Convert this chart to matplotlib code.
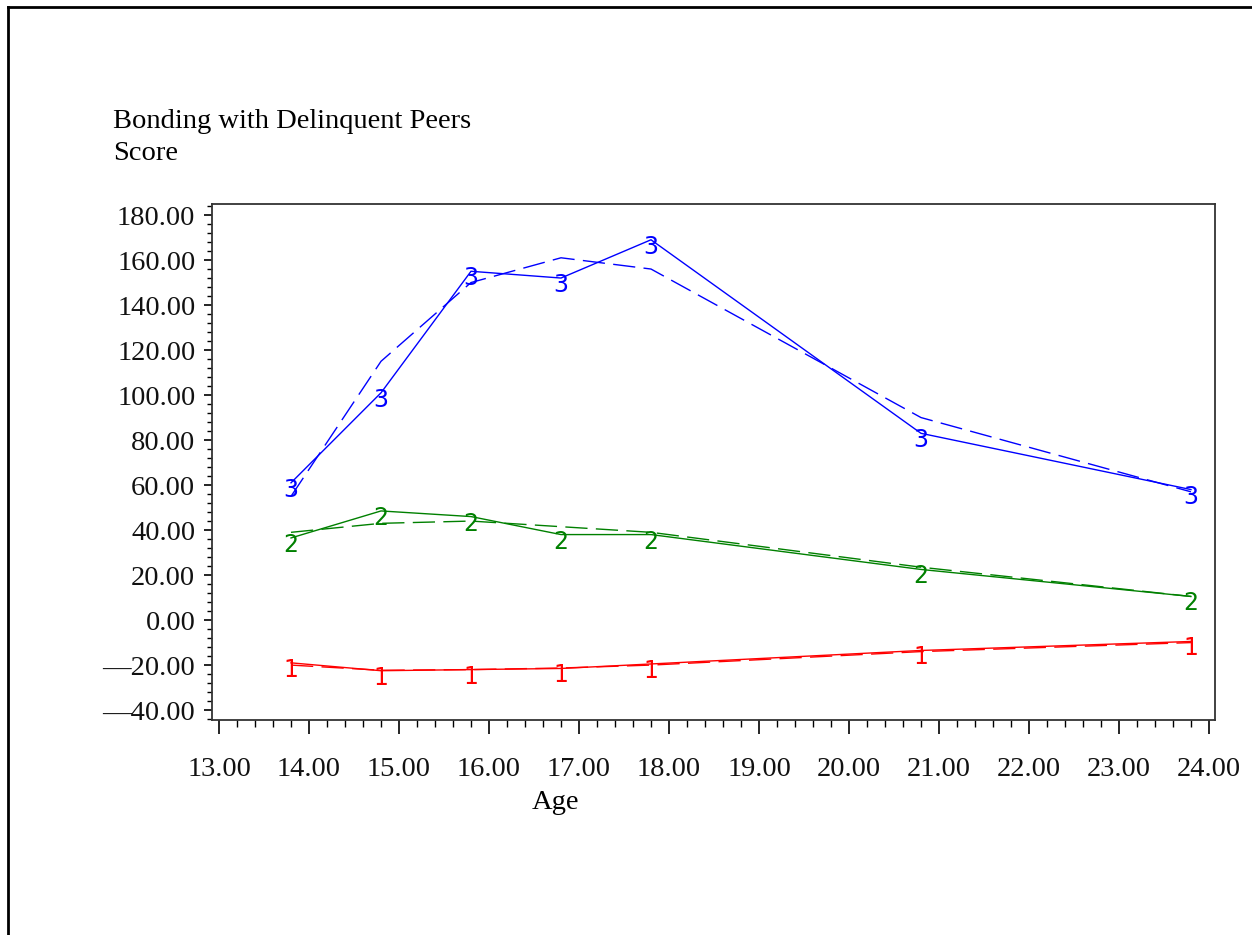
import numpy as np
import matplotlib
matplotlib.use("Agg")
import matplotlib.pyplot as plt
from matplotlib.ticker import MultipleLocator, FixedLocator

# ages at which scores were measured
age = [13.8, 14.8, 15.8, 16.8, 17.8, 20.8, 23.8]

# group 3 (high)
obs3 = [61, 101, 155, 152, 169, 83, 58]
pred3 = [55, 115, 150, 161, 156, 90, 57]
# group 2 (moderate)
obs2 = [36.5, 48.5, 46, 38, 38, 22.5, 10.5]
pred2 = [39, 43, 44, 41.5, 39, 23.5, 10.5]
# group 1 (low)
obs1 = [-19, -22.5, -22, -21.5, -19.5, -13.5, -9.5]
pred1 = [-20, -22.3, -22, -21.3, -20, -14, -10]

yticks = [-40, -20, 0, 20, 40, 60, 80, 100, 120, 140, 160, 180]
xticks = [13, 14, 15, 16, 17, 18, 19, 20, 21, 22, 23, 24]

groups = [
    ("1", obs1, pred1, "#ff0000"),
    ("2", obs2, pred2, "#008000"),
    ("3", obs3, pred3, "#0000ff"),
]

serif = ["Liberation Serif", "DejaVu Serif"]

fig = plt.figure(figsize=(12.52, 9.35), dpi=100)
ax = fig.add_axes([212 / 1252, 1 - 720 / 935, 1003 / 1252, 516 / 935])

for lab, obs, pred, col in groups:
    ax.plot(age, obs, color=col, lw=1.0, solid_joinstyle="miter")
    ax.plot(age, pred, color=col, lw=1.0, dashes=(16, 6))
    for xx, yy in zip(age, obs):
        ax.annotate(lab, (xx, yy), xytext=(0, -5), textcoords="offset points",
                    ha="center", va="center", color=col, fontsize=17,
                    family=["DejaVu Sans"])

ax.set_xlim(12.922, 24.067)
ax.set_ylim(-44.4, 184.9)

ax.xaxis.set_major_locator(FixedLocator(xticks))
ax.xaxis.set_minor_locator(MultipleLocator(0.2))
ax.yaxis.set_major_locator(FixedLocator(yticks))
ax.yaxis.set_minor_locator(MultipleLocator(4))

ax.set_xticklabels(["%.2f" % v for v in xticks])
ax.set_yticklabels([("\u2014" + "%.2f" % abs(v)) if v < 0 else "%.2f" % v for v in yticks])

ax.tick_params(axis="y", which="major", direction="out", length=6, width=1.2, pad=6)
ax.tick_params(axis="y", which="minor", direction="out", length=3.5, width=1.0)
ax.tick_params(axis="x", which="major", direction="out", length=10, width=1.2, pad=17)
ax.tick_params(axis="x", which="minor", direction="out", length=5, width=1.0)
for t in ax.get_xticklabels() + ax.get_yticklabels():
    t.set_family(serif)
    t.set_fontsize(20.5)
    t.set_color("#111111")

for sp in ax.spines.values():
    sp.set_linewidth(1.3)
    sp.set_color("#333333")

ax.set_xlabel("Age", family=serif, fontsize=20.5)
ax.xaxis.set_label_coords(0.342, -0.135)

fig.text(113 / 1252, 1 - 128 / 935, "Bonding with Delinquent Peers", family=serif,
         fontsize=20.5, va="baseline", ha="left")
fig.text(113 / 1252, 1 - 160 / 935, "Score", family=serif,
         fontsize=20.5, va="baseline", ha="left")

# page border (top and left edges only)
fig.add_artist(plt.Line2D([8 / 1252, 8 / 1252], [0, 1 - 7 / 935], transform=fig.transFigure,
                          color="black", lw=2))
fig.add_artist(plt.Line2D([8 / 1252, 1], [1 - 7 / 935, 1 - 7 / 935], transform=fig.transFigure,
                          color="black", lw=2))

fig.savefig("out.png", dpi=100)
